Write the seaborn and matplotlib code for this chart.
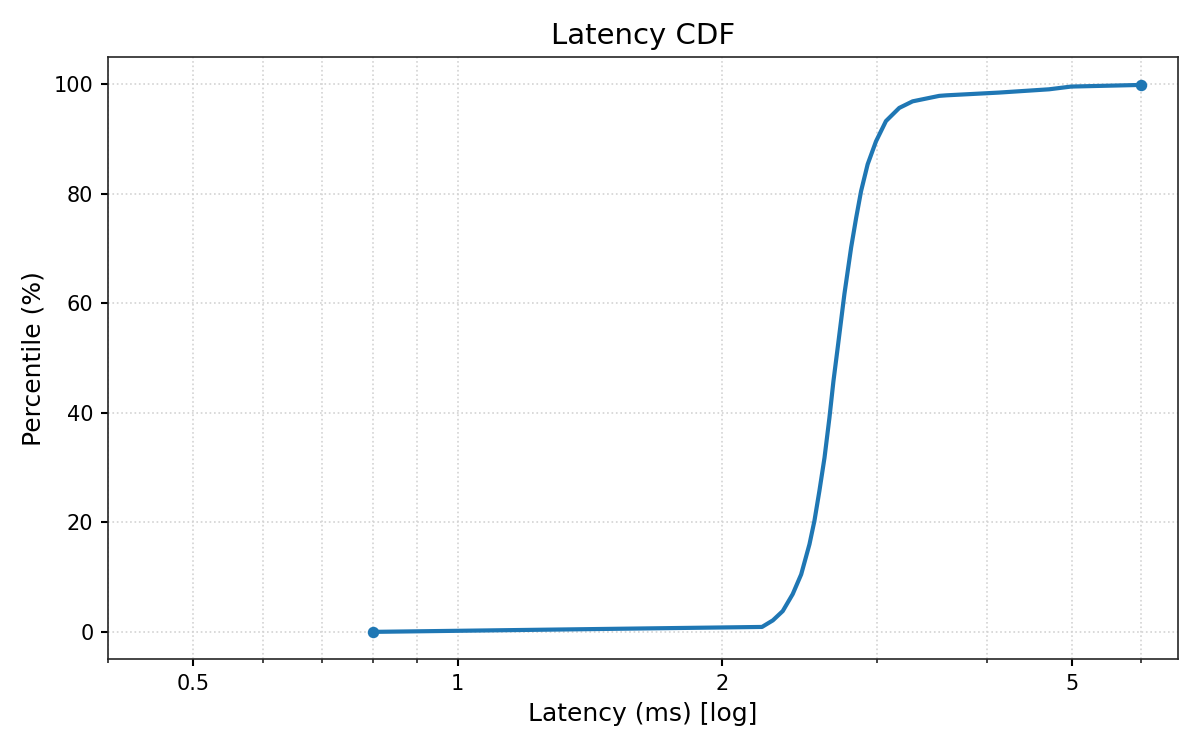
import pandas as pd
import seaborn as sns
import matplotlib
matplotlib.use('Agg')
import matplotlib.pyplot as plt
import matplotlib.ticker as mtick

# percentile curve
latency_ms = [0.8, 2.22, 2.284, 2.344, 2.406, 2.46, 2.514, 2.547, 2.58, 2.615,
              2.649, 2.677, 2.707, 2.755, 2.804, 2.841, 2.878, 2.928, 2.993,
              3.072, 3.181, 3.294, 3.532, 3.6, 4.13, 4.71, 4.99, 6.0]
percentile = [0, 0.9, 2.1, 3.8, 6.9, 10.5, 16.0, 20.3, 25.7, 31.8,
              39.1, 45.8, 51.9, 61.7, 70.2, 75.6, 80.5, 85.4, 89.6,
              93.3, 95.7, 96.9, 97.9, 98.0, 98.5, 99.1, 99.6, 99.9]
x_ticks = [0.5, 1, 2, 5]
x_tick_labels = ['0.5', '1', '2', '5']

df = pd.DataFrame({'latency': latency_ms, 'pct': percentile})

sns.set_style('ticks', {'axes.edgecolor': '.15', 'axes.linewidth': 1.1,
                        'text.color': 'black', 'axes.labelcolor': 'black'})
plt.rcParams['font.family'] = ['DejaVu Sans']

fig, ax = plt.subplots(figsize=(8, 5), dpi=150)
sns.lineplot(x='latency', y='pct', data=df, ax=ax, color='#1f77b4', linewidth=2,
             marker='o', markersize=5.5, markeredgewidth=0, markevery=[0, len(df) - 1],
             sort=False)

ax.set_xscale('log')
ax.set_xlim(0.4, 6.6)
ax.set_ylim(-5, 105)
ax.set_xticks(x_ticks)
ax.set_xticklabels(x_tick_labels)
ax.xaxis.set_minor_formatter(mtick.NullFormatter())
ax.tick_params(axis='both', which='major', length=3.5, width=1, labelsize=10, colors='black')
ax.tick_params(axis='x', which='minor', length=2, width=0.8)
ax.grid(True, which='both', linestyle=':', color='lightgray', linewidth=0.8)

ax.set_title('Latency CDF', fontsize=14, color='black')
ax.set_xlabel('Latency (ms) [log]', fontsize=12, color='black')
ax.set_ylabel('Percentile (%)', fontsize=12, color='black')

fig.subplots_adjust(left=0.09, right=0.9815, top=0.924, bottom=0.121)
plt.savefig('out.png', dpi=150)
